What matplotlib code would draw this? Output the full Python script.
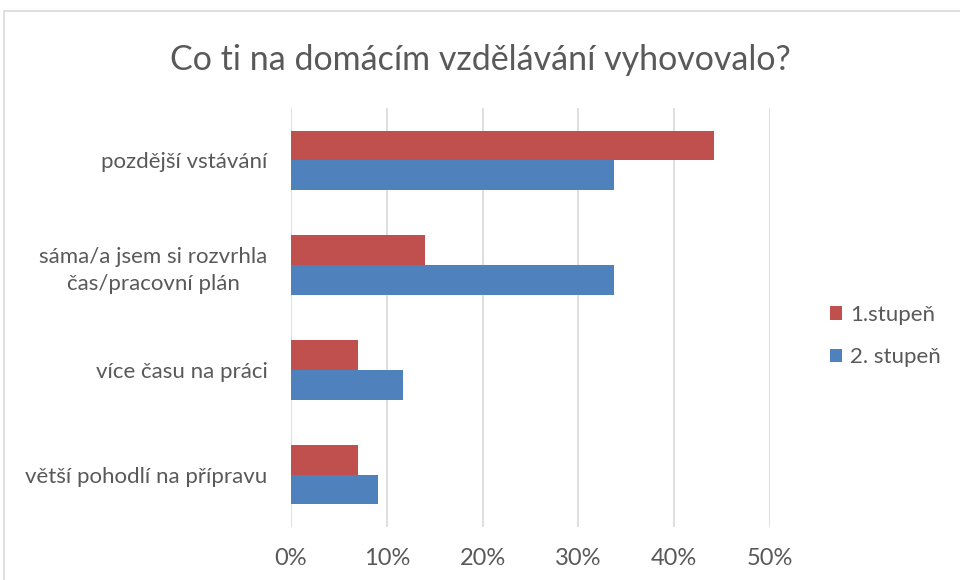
import numpy as np
import matplotlib
matplotlib.use('Agg')
import matplotlib.pyplot as plt
from matplotlib.patches import Rectangle

categories = ['pozdější vstávání', 'sáma/a jsem si rozvrhla\nčas/pracovní plán',
              'více času na práci', 'větší pohodlí na přípravu']
stupen1 = [44.2, 14.0, 7.0, 7.0]
stupen2 = [33.7, 33.7, 11.7, 9.1]
series_names = ['1.stupeň', '2. stupeň']
xticks = [0, 10, 20, 30, 40, 50]

plt.rcParams['font.family'] = ['Lato', 'DejaVu Sans']
gray = '#595959'

fig = plt.figure(figsize=(9.6, 5.8), dpi=100)
# chart border
fig.patches.append(Rectangle((4 / 960, -0.1), 1.2, 1 - 11 / 580 + 0.1, transform=fig.transFigure,
                             fill=False, edgecolor='#D9D9D9', linewidth=1.2))

ax = fig.add_axes([291 / 960, 1 - 527 / 580, (770 - 291) / 960, (527 - 108) / 580])
y = np.arange(len(categories))
h = 0.285
ax.barh(y - h / 2, stupen1, height=h, color='#C0504D', label=series_names[0], zorder=3)
ax.barh(y + h / 2, stupen2, height=h, color='#4F81BD', label=series_names[1], zorder=3)

ax.set_xlim(0, 50)
ax.set_ylim(len(categories) - 0.5, -0.5)
ax.set_xticks(xticks)
ax.set_xticklabels([f'{t}%' for t in xticks])
ax.set_yticks(y)
ax.set_yticklabels(categories, multialignment='center', linespacing=1.4)
ax.tick_params(axis='both', length=0, colors=gray, labelsize=16)
ax.tick_params(axis='x', labelsize=17, pad=15)
ax.tick_params(axis='y', pad=17)
ax.xaxis.grid(True, color='#D9D9D9', linewidth=1.2, zorder=0)
for s in ax.spines.values():
    s.set_visible(False)

fig.text(0.5, 1 - 60 / 580, 'Co ti na domácím vzdělávání vyhovovalo?', ha='center', va='center',
         fontsize=24.5, color=gray)

ax.legend(loc='center left', bbox_to_anchor=(830 / 960, 1 - 336 / 580), bbox_transform=fig.transFigure,
          frameon=False, fontsize=16, labelcolor=gray, handlelength=0.55, handleheight=0.55,
          handletextpad=0.35, labelspacing=1.0, borderpad=0, borderaxespad=0)

fig.savefig('out.png', dpi=100)
